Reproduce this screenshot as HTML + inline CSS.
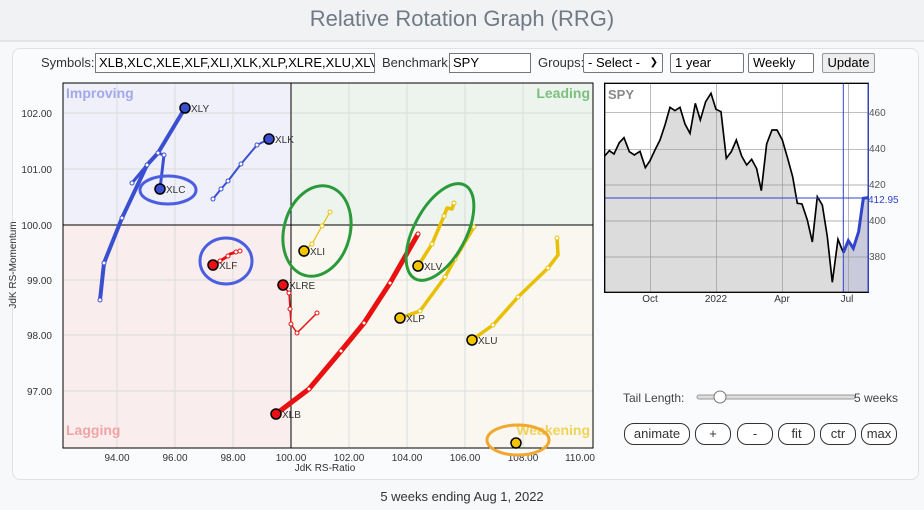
<!DOCTYPE html>
<html><head><meta charset="utf-8"><style>
body{margin:0;width:924px;height:510px;background:#f7f8f9;font-family:"Liberation Sans",sans-serif;overflow:hidden;position:relative}
.a{position:absolute}
.box{border:1px solid #767676;background:#fff;font-size:13px;line-height:18px;padding:0 3px;box-sizing:border-box;height:20px;color:#000}
.sel{border:1px solid #767676;background:#fff;font-size:13px;height:20px;line-height:18px;padding:0 4px;box-sizing:border-box;border-radius:2px}
.btn{border:1px solid #333;border-radius:10px;background:#fff;font-size:13px;height:22px;line-height:20px;text-align:center;box-sizing:border-box;color:#333}
</style></head><body>
<div class="a" style="left:0;top:0;width:924px;height:40px;background:#f1f2f4;border-bottom:2px solid #e2e4e7"></div>
<div class="a" style="left:0;top:6px;width:924px;text-align:center;font-size:22px;color:#707a86">Relative Rotation Graph (RRG)</div>
<div class="a" style="left:12px;top:48px;width:905px;height:430px;background:#fafbfc;border:1px solid #dfe1e4;border-radius:8px"></div>
<div class="a" style="left:41px;top:55px;font-size:13px;color:#333">Symbols:</div>
<div class="a box" style="left:95px;top:53px;width:280px;overflow:hidden;white-space:nowrap">XLB,XLC,XLE,XLF,XLI,XLK,XLP,XLRE,XLU,XLV,XLY</div>
<div class="a" style="left:382px;top:55px;font-size:13px;color:#333">Benchmark:</div>
<div class="a box" style="left:449px;top:53px;width:82px">SPY</div>
<div class="a" style="left:538px;top:55px;font-size:13px;color:#333">Groups:</div>
<div class="a sel" style="left:583px;top:53px;width:80px">- Select - <span style="float:right;font-size:10px">&#10095;</span></div>
<div class="a sel" style="left:670px;top:53px;width:74px">1 year</div>
<div class="a sel" style="left:748px;top:53px;width:66px">Weekly</div>
<div class="a" style="left:822px;top:53px;width:53px;height:20px;border:1px solid #999;background:#eee;border-radius:2px;font-size:13px;text-align:center;line-height:18px;box-sizing:border-box">Update</div>
<svg class="a" style="left:0;top:0" width="924" height="510" font-family="Liberation Sans, sans-serif">
<rect x="63" y="83" width="228" height="142" fill="#eff0f9"/>
<rect x="291" y="83" width="302" height="142" fill="#edf4ee"/>
<rect x="63" y="225" width="228" height="223" fill="#f9eded"/>
<rect x="291" y="225" width="302" height="223" fill="#f9f7ef"/>
<g stroke="#dcdcdc" stroke-width="1">
<line x1="117" y1="83" x2="117" y2="448"/><line x1="175" y1="83" x2="175" y2="448"/><line x1="233" y1="83" x2="233" y2="448"/><line x1="349" y1="83" x2="349" y2="448"/><line x1="407" y1="83" x2="407" y2="448"/><line x1="465" y1="83" x2="465" y2="448"/><line x1="523" y1="83" x2="523" y2="448"/>
<line x1="63" y1="113" x2="593" y2="113"/><line x1="63" y1="169" x2="593" y2="169"/><line x1="63" y1="280" x2="593" y2="280"/><line x1="63" y1="335" x2="593" y2="335"/><line x1="63" y1="391" x2="593" y2="391"/>
</g>
<rect x="63" y="83" width="530" height="365" fill="none" stroke="#000"/>
<line x1="291" y1="83" x2="291" y2="448" stroke="#000"/><line x1="63" y1="225" x2="593" y2="225" stroke="#000"/>
<text x="66" y="98" font-size="14" font-weight="bold" fill="#a3a8e8">Improving</text>
<text x="590" y="98" font-size="14" font-weight="bold" fill="#7cc07f" text-anchor="end">Leading</text>
<text x="66" y="435" font-size="14" font-weight="bold" fill="#f0a4a4">Lagging</text>
<text x="590" y="435" font-size="14" font-weight="bold" fill="#efd35a" text-anchor="end">Weakening</text>
<g font-size="10" fill="#333" text-anchor="end">
<text x="52" y="117">102.00</text><text x="52" y="173">101.00</text><text x="52" y="229">100.00</text><text x="52" y="284">99.00</text><text x="52" y="339">98.00</text><text x="52" y="395">97.00</text></g>
<g font-size="10" fill="#333" text-anchor="middle">
<text x="117" y="461">94.00</text><text x="175" y="461">96.00</text><text x="233" y="461">98.00</text><text x="291" y="461">100.00</text><text x="349" y="461">102.00</text><text x="407" y="461">104.00</text><text x="465" y="461">106.00</text><text x="523" y="461">108.00</text><text x="580" y="461">110.00</text>
<text x="325" y="471">JdK RS-Ratio</text></g>
<text transform="translate(16,265) rotate(-90)" font-size="10" fill="#333" text-anchor="middle">JdK RS-Momentum</text>
<g fill="none" stroke-linecap="round" stroke-linejoin="round">
<polyline points="100,300 104,263 122,218 147,165 158,153 185,108" stroke="#3a4fd0" stroke-width="4"/>
<polyline points="132,183 147,165 158,153 164,155 160,189" stroke="#3a4fd0" stroke-width="3"/>
<polyline points="213,199 221,189 228,181 241,164 257,145 269,139" stroke="#3a4fd0" stroke-width="2"/>
<polyline points="213,265 220,261 228,256 230,254 236,252 240,251" stroke="#e81010" stroke-width="3"/>
<polyline points="283,285 289,293 290,309 291,324 297,333 317,313" stroke="#e81010" stroke-width="1.5"/>
<polyline points="276,414 309,389 341,351 364,323 390,283 418,234" stroke="#e81010" stroke-width="5"/>
<polyline points="304,251 312,244 322,226 330,212" stroke="#e8c000" stroke-width="1.2"/>
<polyline points="418,266 432,244 444,216 447,208 452,209 454,203" stroke="#e8c000" stroke-width="3.5"/>
<polyline points="400,318 420,311 445,277 455,259 474,227" stroke="#e8c000" stroke-width="3.5"/>
<polyline points="472,340 493,325 518,297 548,268 558,255 557,238" stroke="#e8c000" stroke-width="3.5"/>
</g>
<g fill="#fff" stroke-width="1">
<g stroke="#3a4fd0"><circle cx="100" cy="300" r="2"/><circle cx="104" cy="263" r="2"/><circle cx="122" cy="218" r="2"/><circle cx="147" cy="165" r="2"/><circle cx="158" cy="153" r="2"/><circle cx="132" cy="183" r="2"/><circle cx="164" cy="155" r="2"/><circle cx="213" cy="199" r="2"/><circle cx="221" cy="189" r="2"/><circle cx="228" cy="181" r="2"/><circle cx="241" cy="164" r="2"/><circle cx="257" cy="145" r="2"/></g>
<g stroke="#e81010"><circle cx="220" cy="261" r="2"/><circle cx="228" cy="256" r="2"/><circle cx="236" cy="252" r="2"/><circle cx="240" cy="251" r="2"/><circle cx="289" cy="293" r="2"/><circle cx="290" cy="309" r="2"/><circle cx="291" cy="324" r="2"/><circle cx="297" cy="333" r="2"/><circle cx="317" cy="313" r="2"/><circle cx="309" cy="389" r="2"/><circle cx="341" cy="351" r="2"/><circle cx="364" cy="323" r="2"/><circle cx="390" cy="283" r="2"/><circle cx="418" cy="234" r="2"/></g>
<g stroke="#e8c000"><circle cx="312" cy="244" r="2"/><circle cx="322" cy="226" r="2"/><circle cx="330" cy="212" r="2"/><circle cx="432" cy="244" r="2"/><circle cx="444" cy="216" r="2"/><circle cx="454" cy="203" r="2"/><circle cx="420" cy="311" r="2"/><circle cx="445" cy="277" r="2"/><circle cx="455" cy="259" r="2"/><circle cx="474" cy="227" r="2"/><circle cx="493" cy="325" r="2"/><circle cx="518" cy="297" r="2"/><circle cx="548" cy="268" r="2"/><circle cx="557" cy="238" r="2"/></g>
</g>
<g stroke="#000" stroke-width="1.5">
<circle cx="185" cy="108" r="5" fill="#3a4fd0"/><circle cx="160" cy="189" r="5" fill="#3a4fd0"/><circle cx="269" cy="139" r="5" fill="#3a4fd0"/>
<circle cx="213" cy="265" r="5" fill="#e81010"/><circle cx="283" cy="285" r="5" fill="#e81010"/><circle cx="276" cy="414" r="5" fill="#e81010"/>
<circle cx="304" cy="251" r="5" fill="#f2c500"/><circle cx="418" cy="266" r="5" fill="#f2c500"/><circle cx="400" cy="318" r="5" fill="#f2c500"/><circle cx="472" cy="340" r="5" fill="#f2c500"/><circle cx="516" cy="443" r="5" fill="#f2c500"/>
</g>
<g font-size="10" fill="#333">
<text x="191" y="112">XLY</text><text x="166" y="193">XLC</text><text x="275" y="143">XLK</text><text x="219" y="269">XLF</text><text x="289" y="289">XLRE</text><text x="282" y="418">XLB</text><text x="310" y="255">XLI</text><text x="424" y="270">XLV</text><text x="406" y="322">XLP</text><text x="478" y="344">XLU</text></g>
<g fill="none" stroke-width="3">
<ellipse cx="168" cy="190" rx="28" ry="14" stroke="#4a5ee0"/>
<ellipse cx="226" cy="261" rx="26" ry="23" stroke="#4a5ee0"/>
<ellipse cx="317" cy="231" rx="33" ry="46" stroke="#2a9a3a" transform="rotate(15 317 231)"/>
<ellipse cx="440" cy="232" rx="26" ry="53" stroke="#2a9a3a" transform="rotate(28 440 232)"/>
<ellipse cx="518" cy="440" rx="31" ry="15" stroke="#f0a830"/>
</g>
<rect x="605" y="83" width="263" height="209" fill="#fff"/>
<g transform="translate(590,70) scale(0.3333)">
<polygon fill="#dcdcdc" points="44,667 44,258 58,242 72,252 88,218 102,203 118,245 133,255 150,244 166,293 180,272 195,240 210,210 225,165 240,112 255,122 270,112 285,162 300,190 316,100 331,150 347,95 363,70 378,118 393,125 409,265 424,245 439,210 455,258 470,285 485,268 500,296 514,362 530,222 546,180 561,180 577,210 593,265 608,320 622,400 636,402 652,450 667,516 682,380 697,405 712,500 727,637 744,508 760,548 760,667"/>
<polygon fill="#c9cbdc" points="760,667 760,548 775,512 790,535 806,485 820,385 835,383 835,667"/>
<g stroke="#999" stroke-width="2"><line x1="44" y1="128" x2="835" y2="128"/><line x1="44" y1="238" x2="835" y2="238"/><line x1="44" y1="345" x2="835" y2="345"/><line x1="44" y1="453" x2="835" y2="453"/><line x1="44" y1="561" x2="835" y2="561"/><line x1="182" y1="40" x2="182" y2="667"/><line x1="380" y1="40" x2="380" y2="667"/><line x1="578" y1="40" x2="578" y2="667"/><line x1="776" y1="40" x2="776" y2="667"/></g>
<polyline fill="none" stroke="#000" stroke-width="5" points="44,258 58,242 72,252 88,218 102,203 118,245 133,255 150,244 166,293 180,272 195,240 210,210 225,165 240,112 255,122 270,112 285,162 300,190 316,100 331,150 347,95 363,70 378,118 393,125 409,265 424,245 439,210 455,258 470,285 485,268 500,296 514,362 530,222 546,180 561,180 577,210 593,265 608,320 622,400 636,402 652,450 667,516 682,380 697,405 712,500 727,637 744,508 760,548"/>
<polyline fill="none" stroke="#3344cc" stroke-width="9" points="760,548 775,512 790,535 806,485 820,385 835,383"/>
<line x1="44" y1="384" x2="835" y2="384" stroke="#3344cc" stroke-width="3"/>
<line x1="760" y1="40" x2="760" y2="667" stroke="#3344cc" stroke-width="3"/>
<rect x="44" y="40" width="791" height="627" fill="none" stroke="#000" stroke-width="4"/>
<line x1="835" y1="40" x2="835" y2="667" stroke="#3344cc" stroke-width="4"/>
</g>
<text x="608" y="99" font-size="13" font-weight="bold" fill="#888">SPY</text>
<g font-size="10" fill="#555"><text x="869" y="116">460</text><text x="869" y="152">440</text><text x="869" y="188">420</text><text x="869" y="224">400</text><text x="869" y="260">380</text></g>
<text x="868" y="203" font-size="10" fill="#3344cc">412.95</text>
<g font-size="10" fill="#333" text-anchor="middle"><text x="650" y="302">Oct</text><text x="716" y="302">2022</text><text x="782" y="302">Apr</text><text x="847" y="302">Jul</text></g>
<text x="623" y="402" font-size="12" fill="#444">Tail Length:</text>
<rect x="697" y="395" width="158" height="4" rx="2" fill="#ddd" stroke="#999"/>
<circle cx="720" cy="397" r="6" fill="#fff" stroke="#777"/>
<text x="854" y="402" font-size="12" fill="#444">5 weeks</text>
</svg>
<div class="a btn" style="left:624px;top:423px;width:66px">animate</div>
<div class="a btn" style="left:695px;top:423px;width:36px">+</div>
<div class="a btn" style="left:737px;top:423px;width:36px">-</div>
<div class="a btn" style="left:778px;top:423px;width:37px">fit</div>
<div class="a btn" style="left:820px;top:423px;width:36px">ctr</div>
<div class="a btn" style="left:861px;top:423px;width:36px">max</div>
<div class="a" style="left:0;top:489px;width:924px;text-align:center;font-size:13px;color:#333">5 weeks ending Aug 1, 2022</div>
</body></html>
